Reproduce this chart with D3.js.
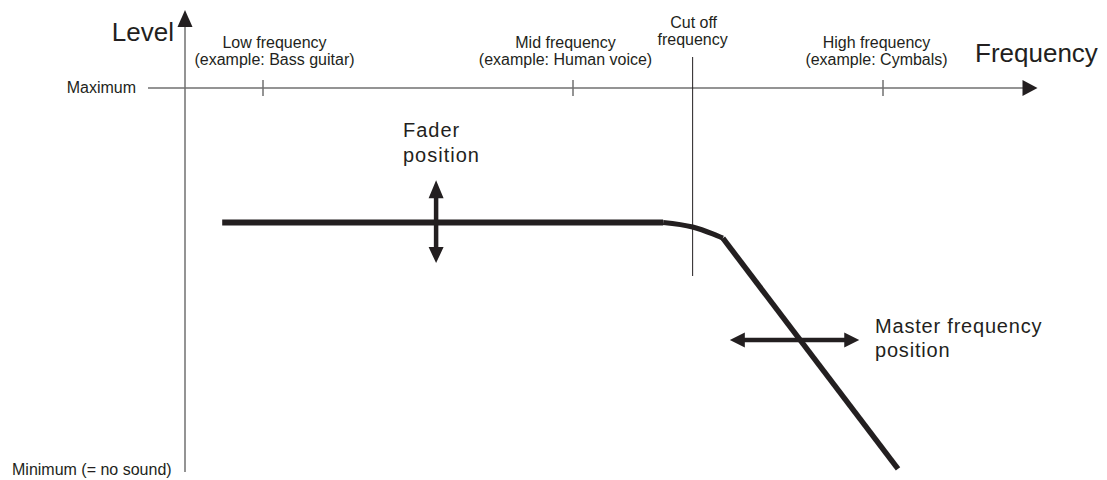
<!DOCTYPE html>
<html>
<head>
<meta charset="utf-8">
<script src="https://cdn.jsdelivr.net/npm/d3@7"></script>
<style>
  body { margin: 0; background: #fff; }
  text { font-family: "Liberation Sans", Arial, sans-serif; fill: #231f20; }
</style>
</head>
<body>
<div id="chart"></div>
<script>
const width = 1107;
const height = 480;

// Frequency band ticks and their labels
const freqTicks = [1, 5, 9];
const bandNames = ["Low frequency", "Mid frequency", "High frequency"];
const bandExamples = ["(example: Bass guitar)", "(example: Human voice)", "(example: Cymbals)"];

// Filter response (frequency units, level 0 = no sound, 10 = maximum)
const cutoffFreq = 6.55;
const flatFreq = [0.48, 6.17];
const flatLevel = [6.5, 6.5];
const kneeFreq = [6.17, 6.55, 6.81, 6.94];
const kneeLevel = [6.5, 6.38, 6.2, 6.09];
const slopeFreq = [6.94, 9.2];
const slopeLevel = [6.09, 0.08];

// Control arrows
const faderFreq = 3.24;
const faderLevels = [7.6, 5.44];
const masterLevel = 3.44;
const masterFreqs = [7.03, 8.7];

const ink = "#231f20";
const axisColor = "#707070";

const svg = d3.select("#chart")
    .append("svg")
    .attr("width", width)
    .attr("height", height);

const x = d3.scaleLinear().domain([0, 11]).range([185, 1037.5]);
const y = d3.scaleLinear().domain([0, 10]).range([472, 88]);

// Axes
svg.append("line")
    .attr("x1", 148).attr("x2", 1024)
    .attr("y1", y(10)).attr("y2", y(10))
    .attr("stroke", axisColor).attr("stroke-width", 1.5);

svg.append("line")
    .attr("x1", x(0)).attr("x2", x(0))
    .attr("y1", y(0)).attr("y2", 24)
    .attr("stroke", axisColor).attr("stroke-width", 1.5);

// axis arrowheads
svg.append("path")
    .attr("d", `M${x(11)},${y(10)} L${x(11) - 15},${y(10) - 8} L${x(11) - 15},${y(10) + 8} Z`)
    .attr("fill", ink);
svg.append("path")
    .attr("d", `M${x(0)},10 L${x(0) - 7.5},27 L${x(0) + 7.5},27 Z`)
    .attr("fill", ink);

// tick marks crossing the frequency axis
const tickAxis = svg.append("g")
    .attr("transform", `translate(0,${y(10)})`)
    .call(d3.axisBottom(x).tickValues(freqTicks).tickSize(8).tickFormat(""));
tickAxis.select(".domain").remove();
tickAxis.selectAll(".tick line")
    .attr("y1", -8)
    .attr("stroke", axisColor)
    .attr("stroke-width", 1.5);

// Band labels
const labelShift = [12, -7, -6];
const bands = svg.selectAll(".band")
    .data(freqTicks)
  .enter().append("g")
    .attr("class", "band")
    .attr("transform", (d, i) => `translate(${x(d) + labelShift[i]},0)`);
bands.append("text")
    .attr("y", 48).attr("text-anchor", "middle").attr("font-size", 16)
    .text((d, i) => bandNames[i]);
bands.append("text")
    .attr("y", 65).attr("text-anchor", "middle").attr("font-size", 16)
    .text((d, i) => bandExamples[i]);

// Axis titles
svg.append("text")
    .attr("x", 174).attr("y", 41).attr("text-anchor", "end")
    .attr("font-size", 26).text("Level");
svg.append("text")
    .attr("x", 975).attr("y", 62)
    .attr("font-size", 26).text("Frequency");
svg.append("text")
    .attr("x", 136).attr("y", y(10) + 5).attr("text-anchor", "end")
    .attr("font-size", 16).text("Maximum");
svg.append("text")
    .attr("x", 12).attr("y", y(0) + 3)
    .attr("font-size", 16).text("Minimum (= no sound)");

// Cut off line and label
svg.append("line")
    .attr("x1", x(cutoffFreq)).attr("x2", x(cutoffFreq))
    .attr("y1", 57).attr("y2", 276)
    .attr("stroke", ink).attr("stroke-width", 1);
svg.append("text")
    .attr("x", x(cutoffFreq) + 1).attr("y", 28).attr("text-anchor", "middle")
    .attr("font-size", 16).text("Cut off");
svg.append("text")
    .attr("x", x(cutoffFreq)).attr("y", 45).attr("text-anchor", "middle")
    .attr("font-size", 16).text("frequency");

// Response curve
const line = d3.line().x(d => x(d[0])).y(d => y(d[1]));
svg.append("path")
    .attr("d", line(d3.zip(flatFreq, flatLevel)))
    .attr("fill", "none").attr("stroke", ink).attr("stroke-width", 6);
svg.append("path")
    .attr("d", line.curve(d3.curveMonotoneX)(d3.zip(kneeFreq, kneeLevel)))
    .attr("fill", "none").attr("stroke", ink).attr("stroke-width", 5);
svg.append("path")
    .attr("d", d3.line().x(d => x(d[0])).y(d => y(d[1]))(d3.zip(slopeFreq, slopeLevel)))
    .attr("fill", "none").attr("stroke", ink).attr("stroke-width", 5.5);

// Double-headed arrows
function arrowV(fx, l1, l2) {
    const cx = x(fx), top = y(l1), bot = y(l2);
    svg.append("line")
        .attr("x1", cx).attr("x2", cx).attr("y1", top + 12).attr("y2", bot - 12)
        .attr("stroke", ink).attr("stroke-width", 4.5);
    svg.append("path")
        .attr("d", `M${cx},${top} L${cx - 7.5},${top + 18} L${cx + 7.5},${top + 18} Z
                    M${cx},${bot} L${cx - 7.5},${bot - 16} L${cx + 7.5},${bot - 16} Z`)
        .attr("fill", ink);
}
function arrowH(lv, f1, f2) {
    const cy = y(lv), left = x(f1), right = x(f2);
    svg.append("line")
        .attr("x1", left + 10).attr("x2", right - 10).attr("y1", cy).attr("y2", cy)
        .attr("stroke", ink).attr("stroke-width", 4.5);
    svg.append("path")
        .attr("d", `M${left},${cy} L${left + 15},${cy - 7.5} L${left + 15},${cy + 7.5} Z
                    M${right},${cy} L${right - 15},${cy - 7.5} L${right - 15},${cy + 7.5} Z`)
        .attr("fill", ink);
}
arrowV(faderFreq, faderLevels[0], faderLevels[1]);
arrowH(masterLevel, masterFreqs[0], masterFreqs[1]);

// Control labels
svg.append("text")
    .attr("x", 403).attr("y", 137).attr("font-size", 20).attr("letter-spacing", 1)
    .text("Fader");
svg.append("text")
    .attr("x", 403).attr("y", 162).attr("font-size", 20).attr("letter-spacing", 1)
    .text("position");
svg.append("text")
    .attr("x", 875).attr("y", 333).attr("font-size", 20).attr("letter-spacing", 0.8)
    .text("Master frequency");
svg.append("text")
    .attr("x", 875).attr("y", 357).attr("font-size", 20).attr("letter-spacing", 0.8)
    .text("position");
</script>
</body>
</html>
